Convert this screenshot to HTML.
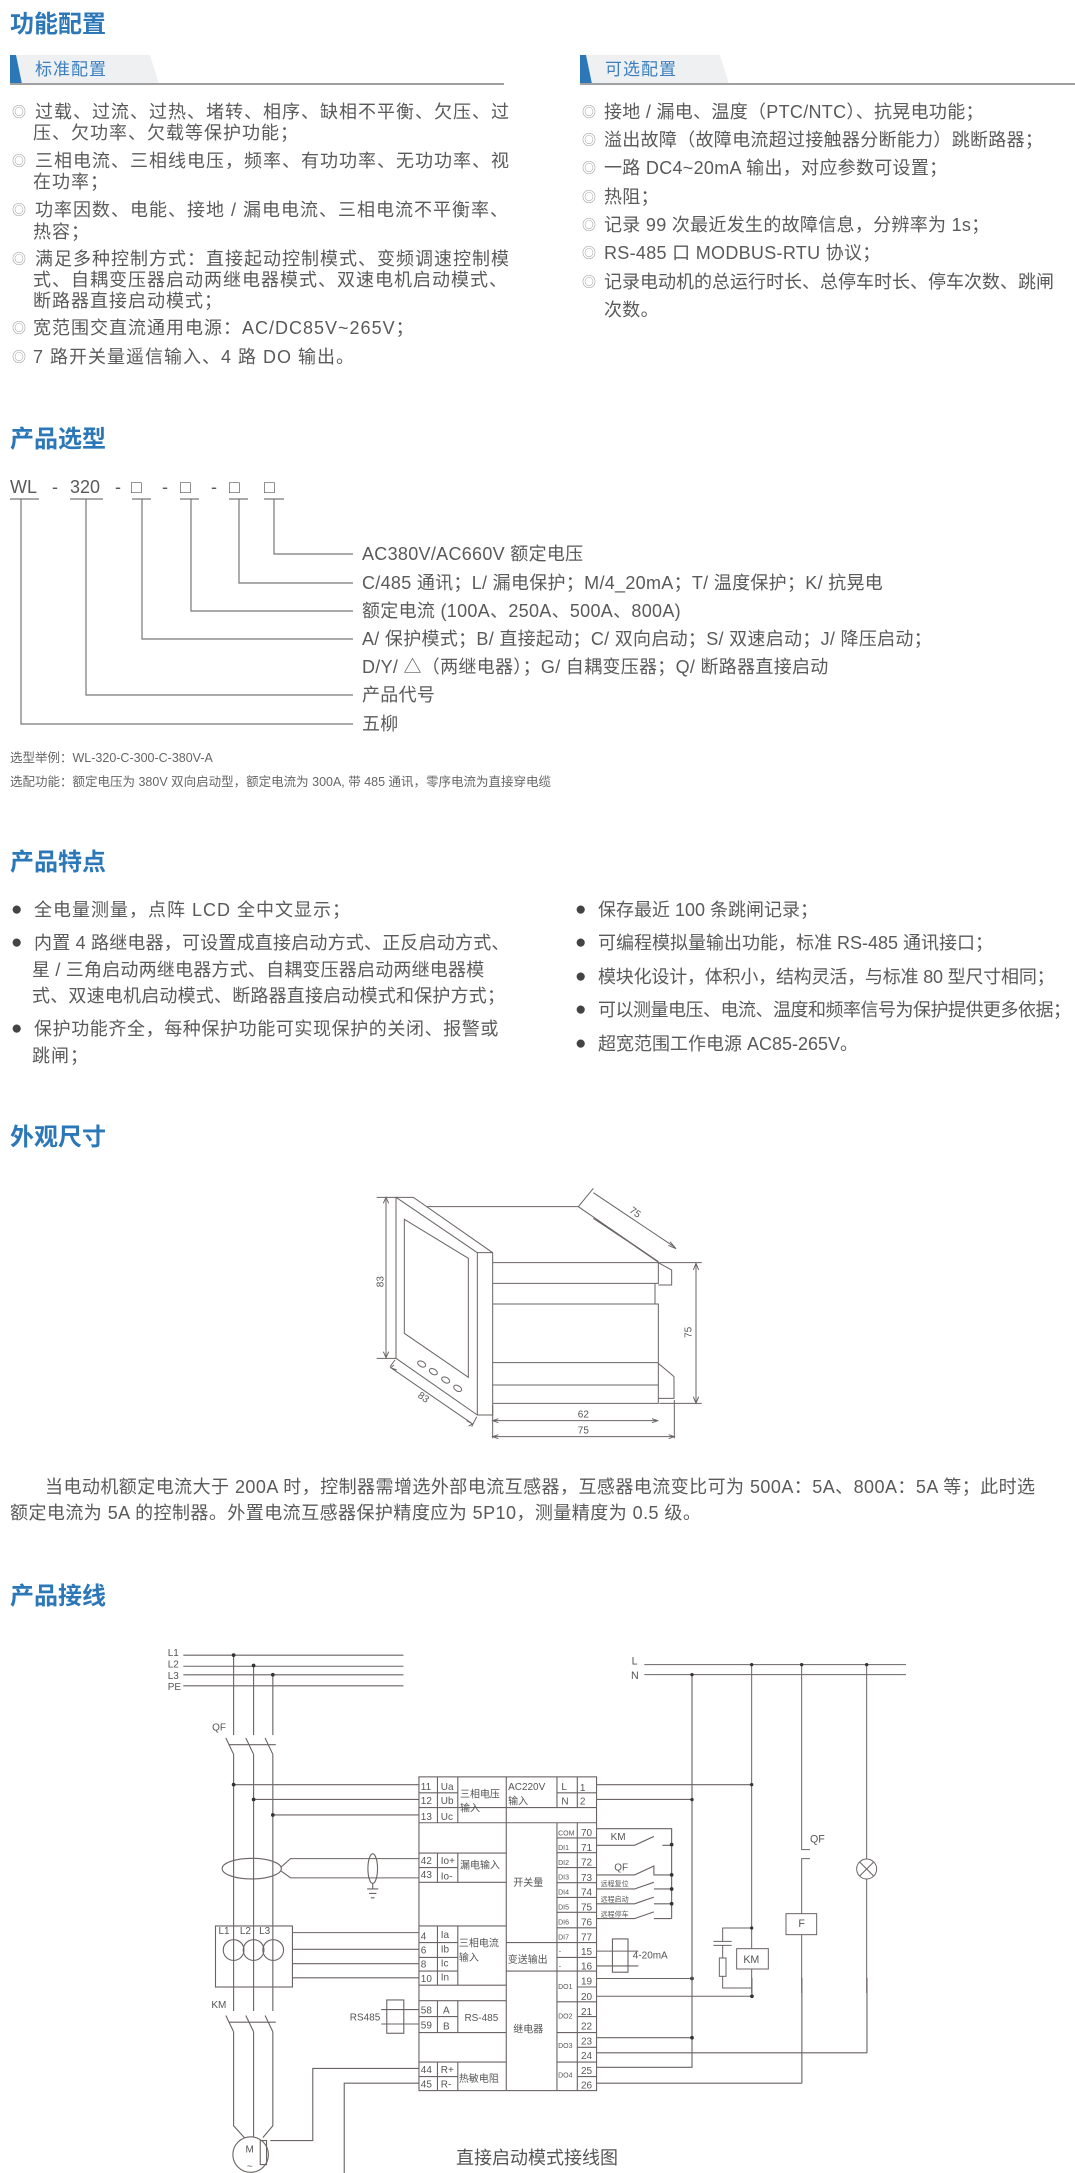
<!DOCTYPE html>
<html><head><meta charset="utf-8">
<style>
*{margin:0;padding:0}
body{width:1075px;height:2173px;position:relative;background:#fff;font-family:"Liberation Sans","Noto Sans CJK SC",sans-serif;overflow:hidden}
.t{position:absolute;white-space:nowrap;line-height:22px;font-size:18px;color:#5a5a5a;letter-spacing:1px}
.r{letter-spacing:0.3px}
.h{position:absolute;white-space:nowrap;font-size:24px;font-weight:bold;color:#2b77b8;line-height:30px;left:10px}
.b{position:absolute;font-size:14px;color:#999;line-height:22px}
.d{position:absolute;font-size:19px;color:#444;line-height:22px}
.s{position:absolute;white-space:nowrap;font-size:12.5px;color:#666;line-height:16px}
svg{position:absolute;overflow:visible}
</style></head><body>

<div class="h" style="top:10px">功能配置</div>
<svg style="left:0;top:0" width="1075" height="100">
<polygon points="10,55 150,55 159,84 10,84" fill="#eff0f2"/>
<polygon points="10,55 16,55 22,84 10,84" fill="#2b77b8"/>
<line x1="10" y1="84" x2="504" y2="84" stroke="#a0a0a0" stroke-width="2"/>
<polygon points="580,55 720,55 729,84 580,84" fill="#eff0f2"/>
<polygon points="580,55 586,55 592,84 580,84" fill="#2b77b8"/>
<line x1="580" y1="84" x2="1075" y2="84" stroke="#a0a0a0" stroke-width="2"/>
</svg>
<div class="t" style="left:35px;top:59px;color:#3b7fc0;font-size:17px">标准配置</div>
<div class="t" style="left:605px;top:59px;color:#3b7fc0;font-size:17px">可选配置</div>

<div class="b" style="left:12px;top:101px">◎</div><div class="t" style="left:35px;top:101px">过载、过流、过热、堵转、相序、缺相不平衡、欠压、过</div>
<div class="t" style="left:33px;top:122px">压、欠功率、欠载等保护功能；</div>
<div class="b" style="left:12px;top:150px">◎</div><div class="t" style="left:35px;top:150px">三相电流、三相线电压，频率、有功功率、无功功率、视</div>
<div class="t" style="left:33px;top:171px">在功率；</div>
<div class="b" style="left:12px;top:199px">◎</div><div class="t" style="left:35px;top:199px">功率因数、电能、接地 / 漏电电流、三相电流不平衡率、</div>
<div class="t" style="left:33px;top:221px">热容；</div>
<div class="b" style="left:12px;top:248px">◎</div><div class="t" style="left:35px;top:248px">满足多种控制方式：直接起动控制模式、变频调速控制模</div>
<div class="t" style="left:33px;top:269px">式、自耦变压器启动两继电器模式、双速电机启动模式、</div>
<div class="t" style="left:33px;top:290px">断路器直接启动模式；</div>
<div class="b" style="left:12px;top:317px">◎</div><div class="t" style="left:33px;top:317px">宽范围交直流通用电源：AC/DC85V~265V；</div>
<div class="b" style="left:12px;top:346px">◎</div><div class="t" style="left:33px;top:346px">7 路开关量遥信输入、4 路 DO 输出。</div>

<div class="b" style="left:582px;top:101px">◎</div><div class="t r" style="left:604px;top:101px">接地 / 漏电、温度（PTC/NTC）、抗晃电功能；</div>
<div class="b" style="left:582px;top:129px">◎</div><div class="t r" style="left:604px;top:129px">溢出故障（故障电流超过接触器分断能力）跳断路器；</div>
<div class="b" style="left:582px;top:157px">◎</div><div class="t r" style="left:604px;top:157px">一路 DC4~20mA 输出，对应参数可设置；</div>
<div class="b" style="left:582px;top:186px">◎</div><div class="t r" style="left:604px;top:186px">热阻；</div>
<div class="b" style="left:582px;top:214px">◎</div><div class="t r" style="left:604px;top:214px">记录 99 次最近发生的故障信息，分辨率为 1s；</div>
<div class="b" style="left:582px;top:242px">◎</div><div class="t r" style="left:604px;top:242px">RS-485 口 MODBUS-RTU 协议；</div>
<div class="b" style="left:582px;top:271px">◎</div><div class="t r" style="left:604px;top:271px;letter-spacing:0">记录电动机的总运行时长、总停车时长、停车次数、跳闸</div>
<div class="t r" style="left:604px;top:299px">次数。</div>

<div class="h" style="top:425px">产品选型</div>
<div class="t" style="left:10px;top:476px;letter-spacing:0">WL</div>
<div class="t" style="left:52px;top:476px">-</div>
<div class="t" style="left:70px;top:476px;letter-spacing:0">320</div>
<div class="t" style="left:115px;top:476px">-</div>
<div class="t" style="left:131px;top:476px">□</div>
<div class="t" style="left:162px;top:476px">-</div>
<div class="t" style="left:180px;top:476px">□</div>
<div class="t" style="left:211px;top:476px">-</div>
<div class="t" style="left:229px;top:476px">□</div>
<div class="t" style="left:264px;top:476px">□</div>
<svg style="left:0;top:0" width="400" height="760">
<g stroke="#777" stroke-width="1.2" fill="none">
<path d="M10 499H39M70 499H103M132 499H151M180 499H199M229 499H248M264 499H284"/>
<path d="M274 499V554H353M239 499V583H353M191 499V611H353M142 499V639H353M86 499V695H353M21 499V724H353"/>
</g></svg>
<div class="t" style="left:362px;top:543px;letter-spacing:0.3px">AC380V/AC660V 额定电压</div>
<div class="t" style="left:362px;top:572px;letter-spacing:0.3px">C/485 通讯；L/ 漏电保护；M/4_20mA；T/ 温度保护；K/ 抗晃电</div>
<div class="t" style="left:362px;top:600px;letter-spacing:0.3px">额定电流 (100A、250A、500A、800A)</div>
<div class="t" style="left:362px;top:628px;letter-spacing:0.3px">A/ 保护模式；B/ 直接起动；C/ 双向启动；S/ 双速启动；J/ 降压启动；</div>
<div class="t" style="left:362px;top:656px;letter-spacing:0.3px">D/Y/ △（两继电器）；G/ 自耦变压器；Q/ 断路器直接启动</div>
<div class="t" style="left:362px;top:684px;letter-spacing:0.3px">产品代号</div>
<div class="t" style="left:362px;top:713px;letter-spacing:0.3px">五柳</div>
<div class="s" style="left:10px;top:750px">选型举例：WL-320-C-300-C-380V-A</div>
<div class="s" style="left:10px;top:774px">选配功能：额定电压为 380V 双向启动型，额定电流为 300A, 带 485 通讯，零序电流为直接穿电缆</div>

<div class="h" style="top:848px">产品特点</div>
<div class="d" style="left:11px;top:899px">●</div><div class="t" style="left:34px;top:899px">全电量测量，点阵 LCD 全中文显示；</div>
<div class="d" style="left:11px;top:932px">●</div><div class="t" style="left:34px;top:932px;letter-spacing:0.2px">内置 4 路继电器，可设置成直接启动方式、正反启动方式、</div>
<div class="t" style="left:32px;top:959px;letter-spacing:0.2px">星 / 三角启动两继电器方式、自耦变压器启动两继电器模</div>
<div class="t" style="left:32px;top:985px;letter-spacing:0.2px">式、双速电机启动模式、断路器直接启动模式和保护方式；</div>
<div class="d" style="left:11px;top:1018px">●</div><div class="t" style="left:34px;top:1018px;letter-spacing:0.6px">保护功能齐全，每种保护功能可实现保护的关闭、报警或</div>
<div class="t" style="left:32px;top:1045px">跳闸；</div>
<div class="d" style="left:575px;top:899px">●</div><div class="t" style="left:598px;top:899px;letter-spacing:0">保存最近 100 条跳闸记录；</div>
<div class="d" style="left:575px;top:932px">●</div><div class="t" style="left:598px;top:932px;letter-spacing:0">可编程模拟量输出功能，标准 RS-485 通讯接口；</div>
<div class="d" style="left:575px;top:966px">●</div><div class="t" style="left:598px;top:966px;letter-spacing:-0.2px">模块化设计，体积小，结构灵活，与标准 80 型尺寸相同；</div>
<div class="d" style="left:575px;top:999px">●</div><div class="t" style="left:598px;top:999px;letter-spacing:-0.5px">可以测量电压、电流、温度和频率信号为保护提供更多依据；</div>
<div class="d" style="left:575px;top:1033px">●</div><div class="t" style="left:598px;top:1033px;letter-spacing:0">超宽范围工作电源 AC85-265V。</div>

<div class="h" style="top:1123px">外观尺寸</div>
<svg style="left:360px;top:1170px" width="350" height="350" viewBox="0 0 1050 1050">
<g stroke="#6a6463" stroke-width="3" fill="none">
<path d="M50 82H108V565H50M78 88V560M70 100L78 82L86 100M70 545L78 563L86 545"/>
<path d="M108 82H160L398 248V735H352V248L108 82M352 248H398"/>
<path d="M108 565L352 735M133 148L325 265V622L133 490Z"/>
<path d="M200 110H655L895 275M398 278H895V340H885V402H895V700H398M398 340H885M398 402H895M398 578H895M398 645H895M895 278L935 300V345H895M895 580L942 620V685H895"/>
<path d="M700 145L895 275M710 150L900 280"/>
<path d="M655 110L700 55M700 68L945 232M930 215L948 236L925 226M900 278L1025 278M898 700L1025 700M1008 285V695M1000 300L1008 280L1016 300M1000 680L1008 700L1016 680"/>
<path d="M95 595L335 760M90 590L105 570M335 770L350 740M110 600L92 593L102 585M320 752L338 762L326 768"/>
<path d="M398 705V805M943 690V805M398 752H893M398 800H943M415 746L398 752L415 758M876 746L893 752L876 758M415 794L398 800L415 806M926 794L943 800L926 806"/>
</g>
<g fill="none" stroke="#6a6463" stroke-width="3">
<ellipse cx="185" cy="582" rx="13" ry="8" transform="rotate(30 185 582)"/>
<ellipse cx="220" cy="605" rx="13" ry="8" transform="rotate(30 220 605)"/>
<ellipse cx="257" cy="630" rx="13" ry="8" transform="rotate(30 257 630)"/>
<ellipse cx="293" cy="655" rx="13" ry="8" transform="rotate(30 293 655)"/>
</g>
<g font-family="Liberation Sans" font-size="30" fill="#555">
<text x="670" y="742" text-anchor="middle">62</text>
<text x="670" y="790" text-anchor="middle">75</text>
<text transform="translate(70,335) rotate(-90)" text-anchor="middle">83</text>
<text transform="translate(995,487) rotate(-90)" text-anchor="middle">75</text>
<text transform="translate(820,135) rotate(35)" text-anchor="middle">75</text>
<text transform="translate(185,690) rotate(35)" text-anchor="middle">83</text>
</g>
</svg>
<div class="t" style="left:45px;top:1476px;letter-spacing:0.45px">当电动机额定电流大于 200A 时，控制器需增选外部电流互感器，互感器电流变比可为 500A：5A、800A：5A 等；此时选</div>
<div class="t" style="left:10px;top:1502px;letter-spacing:0.45px">额定电流为 5A 的控制器。外置电流互感器保护精度应为 5P10，测量精度为 0.5 级。</div>

<div class="h" style="top:1582px">产品接线</div>

<svg style="left:150px;top:1593px" width="810" height="580" viewBox="0 0 810 580">
<g transform="scale(0.36996)" stroke="#6a6463" stroke-width="3" fill="none">
<path d="M90 168H685M90 198H685M90 221H685M90 251H685"/>
<path d="M226 168V384M280 196V384M332 221V384"/>
<path d="M205 392L226 436M259 392L280 436M311 392L332 436M214 410H340" />
<path d="M226 436V1130M280 436V1130M332 436V1130"/>
<path d="M205 1142L226 1186M259 1142L280 1186M311 1142L332 1186M214 1160H340"/>
<path d="M226 1186V1440L255 1472M280 1186V1470M332 1186V1440L305 1472"/>
<path d="M226 518H727M280 558H727M332 600H727"/>
<rect x="727" y="497" width="480" height="848"/>
<path d="M777 497V621M832 497V621M963 497V1345M1100 497V580M1155 497V580M727 621H1207M727 540H832M727 580H1207"/>
<path d="M1100 540H1207"/>
<path d="M727 703H963M727 782H963M777 703V782M832 703V782M727 742H832"/>
<path d="M727 900H963M727 1060H963M777 900V1060M832 900V1060M727 945H832M727 985H832M727 1022H832"/>
<path d="M727 1102H963M727 1188H963M777 1102V1188M832 1102V1188M727 1145H832"/>
<path d="M727 1268H963M777 1268V1345M832 1268V1345M727 1307H832"/>
<path d="M963 945H1100M963 1022H1100M1100 621V1345M1155 621V1345"/>
<path d="M1100 662H1207M1100 702H1207M1100 742H1207M1100 783H1207M1100 823H1207M1100 863H1207M1100 905H1207M1100 945H1207M1100 985H1207M1100 1022H1207M1155 1065H1207M1100 1105H1207M1155 1145H1207M1100 1188H1207M1155 1228H1207M1100 1268H1207M1155 1307H1207"/>
<path d="M1207 518H1627M1207 558H1465M1207 637H1410V880M1207 682H1310L1362 658M1385 682H1410"/>
<path d="M1207 762H1310L1362 738V762H1410M1207 800H1310L1362 782M1362 800H1410M1207 840H1310L1362 822M1362 840H1410M1207 880H1310L1362 862M1362 880H1410"/>
<rect x="1250" y="935" width="42" height="90"/>
<path d="M1207 968H1320M1207 1008H1320"/>
<path d="M1207 1042H1465M1207 1090H1627M1207 1202H1465M1207 1243H1938M1207 1282H1465V220M1207 1325H1762M1627 1040V1090M1762 1040V1325M1938 1040V1243"/>
<ellipse cx="275" cy="745" rx="80" ry="28"/>
<path d="M355 740L380 718H727M355 752L380 770H727"/>
<ellipse cx="602" cy="745" rx="13" ry="40"/>
<path d="M602 785V800M587 800H617M592 812H612M597 824H607"/>
<rect x="177" y="900" width="208" height="165"/>
<circle cx="226" cy="965" r="28"/><circle cx="280" cy="965" r="28"/><circle cx="333" cy="965" r="28"/>
<path d="M385 918H727M385 963H727M385 1002H727M385 1040H727"/>
<rect x="640" y="1100" width="46" height="90"/>
<path d="M625 1126H727M625 1165H727"/>
<path d="M727 1285H440V1480H325M727 1325H525V1580H300"/>
<circle cx="272" cy="1518" r="48"/>
<rect x="298" y="1480" width="17" height="65"/>
</g>
<g transform="scale(0.36996)" fill="#333">
<circle cx="226" cy="168" r="5"/><circle cx="280" cy="196" r="5"/><circle cx="332" cy="221" r="5"/>
<circle cx="226" cy="518" r="5"/><circle cx="280" cy="558" r="5"/><circle cx="332" cy="600" r="5"/>
<circle cx="1410" cy="680" r="5"/><circle cx="1410" cy="762" r="5"/><circle cx="1410" cy="800" r="5"/><circle cx="1410" cy="840" r="5"/>
<circle cx="1465" cy="1042" r="5"/><circle cx="1465" cy="1202" r="5"/><circle cx="1627" cy="1090" r="5"/>
</g>
<g transform="scale(0.36996)" font-family="Liberation Sans,Noto Sans CJK SC,sans-serif" font-size="27" fill="#555">
<text x="48" y="170">L1</text><text x="48" y="202">L2</text><text x="48" y="232">L3</text><text x="48" y="262">PE</text>
<text x="168" y="372">QF</text><text x="166" y="1122">KM</text>
<text x="732" y="532">11</text><text x="786" y="532">Ua</text>
<text x="732" y="570">12</text><text x="786" y="570">Ub</text>
<text x="732" y="614">13</text><text x="786" y="614">Uc</text>
<text x="838" y="553">三相电压</text><text x="838" y="590">输入</text>
<text x="968" y="532">AC220V</text><text x="968" y="572">输入</text>
<text x="1112" y="532">L</text><text x="1112" y="572">N</text>
<text x="1162" y="535">1</text><text x="1162" y="572">2</text>
<text x="732" y="732">42</text><text x="786" y="732">Io+</text>
<text x="732" y="770">43</text><text x="786" y="775">Io-</text>
<text x="838" y="745">漏电输入</text>
<text x="982" y="792">开关量</text>
<text x="732" y="936">4</text><text x="786" y="932">Ia</text>
<text x="732" y="975">6</text><text x="786" y="972">Ib</text>
<text x="732" y="1012">8</text><text x="786" y="1010">Ic</text>
<text x="732" y="1052">10</text><text x="786" y="1048">In</text>
<text x="835" y="955">三相电流</text><text x="835" y="995">输入</text>
<text x="967" y="1000">变送输出</text>
<text x="732" y="1137">58</text><text x="792" y="1137">A</text>
<text x="732" y="1177">59</text><text x="792" y="1180">B</text>
<text x="850" y="1157">RS-485</text>
<text x="982" y="1188">继电器</text>
<text x="732" y="1298">44</text><text x="786" y="1298">R+</text>
<text x="732" y="1337">45</text><text x="786" y="1337">R-</text>
<text x="835" y="1322">热敏电阻</text>
<text x="540" y="1155">RS485</text>
<text x="185" y="922">L1</text><text x="243" y="922">L2</text><text x="295" y="922">L3</text>
<text x="258" y="1512">M</text><text x="262" y="1558">~</text>
<text x="1245" y="668">KM</text><text x="1255" y="750">QF</text>
<text x="1305" y="988">4-20mA</text>
<text x="1165" y="657">70</text><text x="1165" y="697">71</text><text x="1165" y="737">72</text><text x="1165" y="778">73</text><text x="1165" y="818">74</text><text x="1165" y="858">75</text><text x="1165" y="899">76</text><text x="1165" y="939">77</text>
<text x="1165" y="979">15</text><text x="1165" y="1018">16</text><text x="1165" y="1058">19</text><text x="1165" y="1100">20</text><text x="1165" y="1140">21</text><text x="1165" y="1180">22</text><text x="1165" y="1220">23</text><text x="1165" y="1260">24</text><text x="1165" y="1300">25</text><text x="1165" y="1340">26</text>
</g>
<g transform="scale(0.36996)" font-family="Liberation Sans,Noto Sans CJK SC,sans-serif" font-size="19" fill="#555">
<text x="1103" y="655">COM</text><text x="1103" y="695">DI1</text><text x="1103" y="735">DI2</text><text x="1103" y="775">DI3</text><text x="1103" y="815">DI4</text><text x="1103" y="855">DI5</text><text x="1103" y="896">DI6</text><text x="1103" y="936">DI7</text>
<text x="1105" y="975">-</text><text x="1105" y="1015">-</text>
<text x="1103" y="1070">DO1</text><text x="1103" y="1150">DO2</text><text x="1103" y="1230">DO3</text><text x="1103" y="1310">DO4</text>
<text x="1218" y="792">远程复位</text><text x="1218" y="834">远程启动</text><text x="1218" y="875">远程停车</text>
</g>
<g transform="translate(410,0) scale(0.33333)" stroke="#6a6463" stroke-width="3" fill="none">
<path d="M253 215H1038M253 245H1038"/>
<path d="M396 245V1200M575 215V1067M575 1128V1200M575 1005H488V1045M460 1045H515M460 1057H515M488 1057V1095M488 1150V1185H575"/>
<rect x="478" y="1095" width="20" height="55"/>
<rect x="530" y="1067" width="95" height="61"/>
<path d="M725 215V770H750M750 797H725V962M725 1025V1200"/>
<rect x="678" y="962" width="92" height="63"/>
<path d="M920 215V798M920 858V1200"/>
<circle cx="920" cy="828" r="30"/>
<path d="M899 807L941 849M941 807L899 849"/>
</g>
<g transform="translate(410,0) scale(0.33333)" fill="#333">
<circle cx="575" cy="215" r="5"/><circle cx="725" cy="215" r="5"/><circle cx="920" cy="215" r="5"/><circle cx="396" cy="245" r="5"/>
<circle cx="575" cy="575" r="5"/><circle cx="396" cy="620" r="5"/><circle cx="575" cy="1005" r="5"/>
</g>
<g transform="translate(410,0) scale(0.33333)" font-family="Liberation Sans,Noto Sans CJK SC,sans-serif" font-size="32" fill="#555">
<text x="215" y="215">L</text><text x="213" y="258">N</text>
<text x="750" y="748">QF</text><text x="715" y="1002">F</text><text x="550" y="1110">KM</text>
</g>
<text x="387" y="571" font-family="Liberation Sans,Noto Sans CJK SC,sans-serif" font-size="18" fill="#555" text-anchor="middle">直接启动模式接线图</text>
</svg>
</body></html>
